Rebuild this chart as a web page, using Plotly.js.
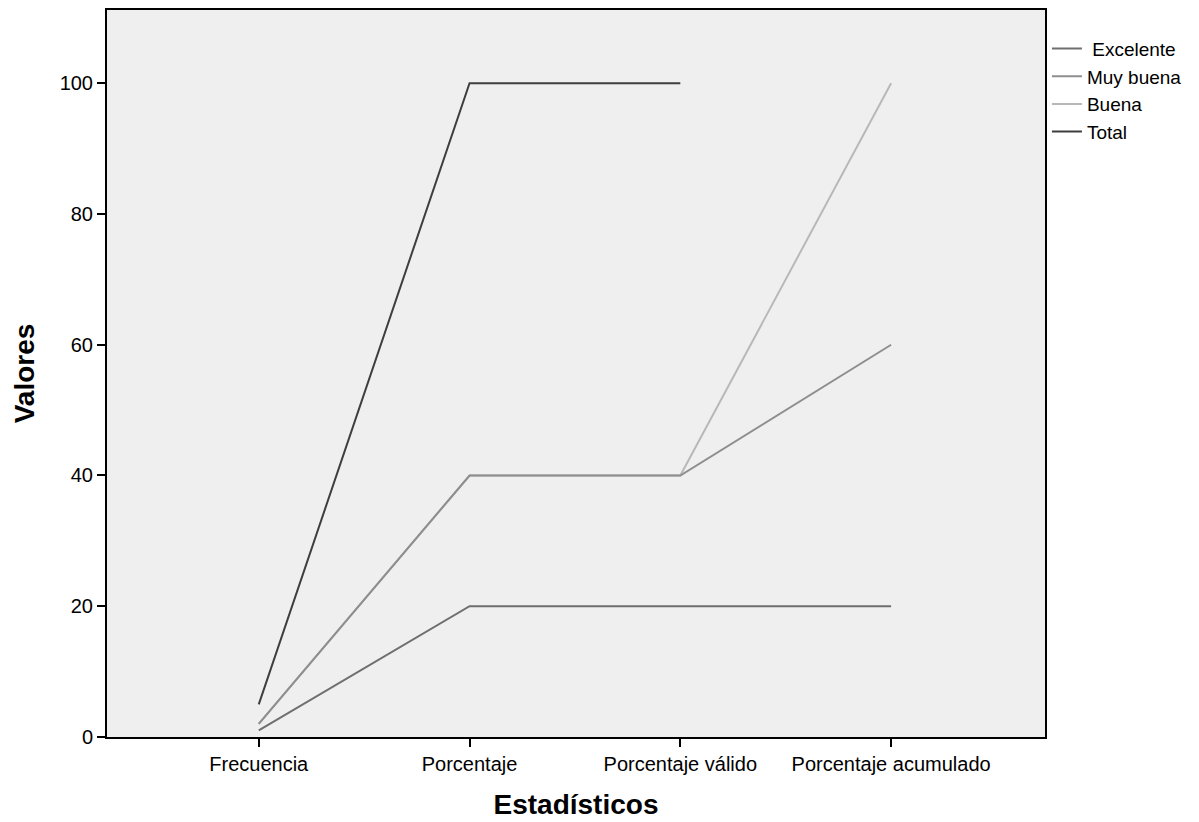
<!DOCTYPE html>
<html>
<head>
<meta charset="utf-8">
<script src="https://cdn.plot.ly/plotly-3.0.1.min.js"></script>
<style>html,body{margin:0;padding:0;background:#fff;}#chart{width:1199px;height:822px;}</style>
</head>
<body>
<div id="chart"></div>
<script>
const categories = ["Frecuencia", "Porcentaje", "Porcentaje válido", "Porcentaje acumulado"];
const excelente = [1, 20, 20, 20];
const muyBuena = [2, 40, 40, 60];
const buena = [2, 40, 40, 100];
const total = [5, 100, 100, null];
const yTicks = [0, 20, 40, 60, 80, 100];

const traces = [
  {name: "Buena", y: buena, color: "#b8b8b8", rank: 3},
  {name: " Excelente", y: excelente, color: "#6f6f6f", rank: 1},
  {name: "Muy buena", y: muyBuena, color: "#8e8e8e", rank: 2},
  {name: "Total", y: total, color: "#3e3e3e", rank: 4}
].map(s => ({
  type: "scatter", mode: "lines", x: categories, y: s.y, name: s.name,
  legendrank: s.rank, connectgaps: false,
  line: {color: s.color, width: 2}
}));

const layout = {
  width: 1199, height: 822,
  margin: {l: 107, r: 6, t: 10, b: 85},
  paper_bgcolor: "#ffffff",
  plot_bgcolor: "#efefef",
  font: {family: "Arial, 'Liberation Sans', sans-serif", size: 20, color: "#000"},
  showlegend: true,
  legend: {x: 0.8655, y: 0.973, xanchor: "left", yanchor: "top", bgcolor: "rgba(0,0,0,0)",
           font: {size: 19}, tracegroupgap: 0, itemwidth: 30, traceorder: "normal"},
  xaxis: {
    type: "category", range: [-0.72, 3.73], domain: [0, 0.8637],
    showline: true, linecolor: "#000", linewidth: 2, mirror: true,
    ticks: "outside", ticklen: 8, tickcolor: "#000", tickwidth: 2,
    showgrid: false, zeroline: false,
    title: {text: "<b>Estadísticos</b>", font: {size: 28}, standoff: 20}
  },
  yaxis: {
    range: [0, 111.2], tickvals: yTicks,
    showline: true, linecolor: "#000", linewidth: 2, mirror: true,
    ticks: "outside", ticklen: 8, tickcolor: "#000", tickwidth: 2,
    showgrid: false, zeroline: false,
    title: {text: "<b>Valores</b>", font: {size: 28}, standoff: 17}
  }
};

Plotly.newPlot("chart", traces, layout, {displayModeBar: false, staticPlot: true});
</script>
</body>
</html>
